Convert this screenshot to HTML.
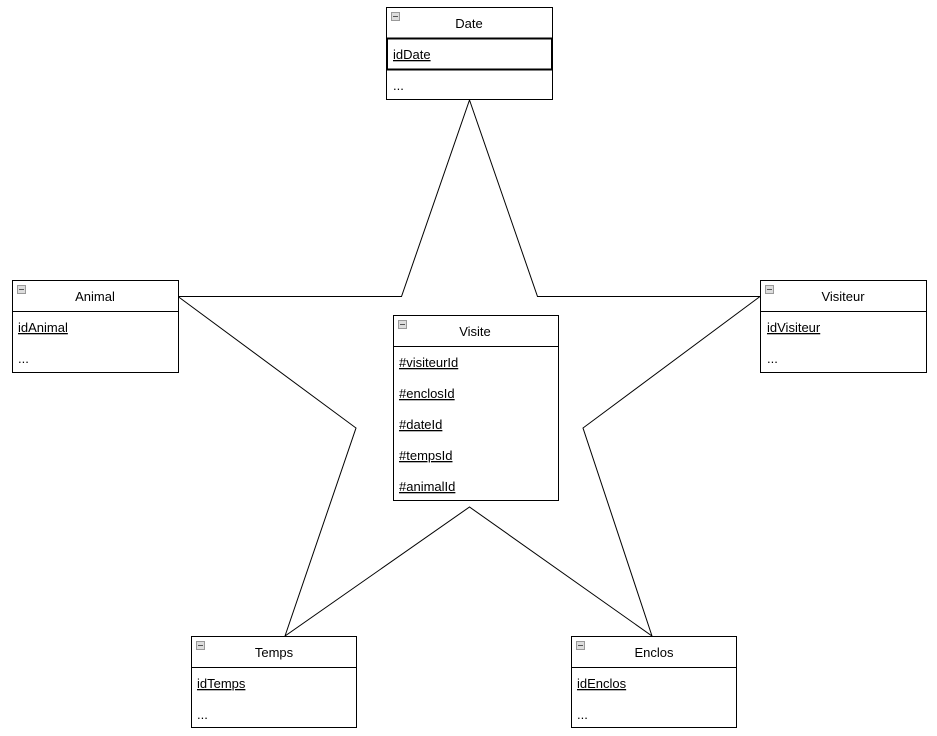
<!DOCTYPE html>
<html><head><meta charset="utf-8"><style>
html,body{margin:0;padding:0;background:#fff;}
svg{display:block;}
text{font-family:"Liberation Sans",Arial,sans-serif;font-size:13px;fill:#000;}
</style></head><body>
<svg width="937" height="736" viewBox="0 0 937 736" xmlns="http://www.w3.org/2000/svg">
<g fill="none" stroke="#000" stroke-width="1">
<polyline points="469.5,100 401.5,296.5 178,296.5"/>
<polyline points="469.5,100 537.5,296.5 760,296.5"/>
<polyline points="178,296.5 356,428 285,636"/>
<polyline points="760,296.5 583,428 652,636"/>
<polyline points="285,636 469.5,507 652,636"/>
</g>
<!-- Date -->
<g>
<rect x="386.5" y="7.5" width="166" height="92" fill="#fff" stroke="#000"/>
<line x1="386.5" y1="38.5" x2="552.5" y2="38.5" stroke="#000" stroke-width="2"/>
<line x1="386.5" y1="69.5" x2="552.5" y2="69.5" stroke="#000" stroke-width="2"/>
<line x1="387" y1="38.5" x2="387" y2="69.5" stroke="#000" stroke-width="2"/>
<line x1="552" y1="38.5" x2="552" y2="69.5" stroke="#000" stroke-width="2"/>
<rect x="391.5" y="12.5" width="8" height="8" fill="#ddd" stroke="#999"/><line x1="393" y1="16.5" x2="398" y2="16.5" stroke="#555"/>
<text x="469" y="28" text-anchor="middle">Date</text>
<text x="393" y="59" text-decoration="underline">idDate</text>
<text x="393" y="90" font-size="11">...</text>
</g>
<!-- Animal -->
<g>
<rect x="12.5" y="280.5" width="166" height="92" fill="#fff" stroke="#000"/>
<line x1="12.5" y1="311.5" x2="178.5" y2="311.5" stroke="#000"/>
<rect x="17.5" y="285.5" width="8" height="8" fill="#ddd" stroke="#999"/><line x1="19" y1="289.5" x2="24" y2="289.5" stroke="#555"/>
<text x="95" y="301" text-anchor="middle">Animal</text>
<text x="18" y="332" text-decoration="underline">idAnimal</text>
<text x="18" y="363" font-size="11">...</text>
</g>
<!-- Visiteur -->
<g>
<rect x="760.5" y="280.5" width="166" height="92" fill="#fff" stroke="#000"/>
<line x1="760.5" y1="311.5" x2="926.5" y2="311.5" stroke="#000"/>
<rect x="765.5" y="285.5" width="8" height="8" fill="#ddd" stroke="#999"/><line x1="767" y1="289.5" x2="772" y2="289.5" stroke="#555"/>
<text x="843" y="301" text-anchor="middle">Visiteur</text>
<text x="767" y="332" text-decoration="underline">idVisiteur</text>
<text x="767" y="363" font-size="11">...</text>
</g>
<!-- Visite -->
<g>
<rect x="393.5" y="315.5" width="165" height="185" fill="#fff" stroke="#000"/>
<line x1="393.5" y1="346.5" x2="558.5" y2="346.5" stroke="#000"/>
<rect x="398.5" y="320.5" width="8" height="8" fill="#ddd" stroke="#999"/><line x1="400" y1="324.5" x2="405" y2="324.5" stroke="#555"/>
<text x="475" y="336" text-anchor="middle">Visite</text>
<text x="399" y="367" text-decoration="underline">#visiteurId</text>
<text x="399" y="398" text-decoration="underline">#enclosId</text>
<text x="399" y="429" text-decoration="underline">#dateId</text>
<text x="399" y="460" text-decoration="underline">#tempsId</text>
<text x="399" y="491" text-decoration="underline">#animalId</text>
</g>
<!-- Temps -->
<g>
<rect x="191.5" y="636.5" width="165" height="91" fill="#fff" stroke="#000"/>
<line x1="191.5" y1="667.5" x2="356.5" y2="667.5" stroke="#000"/>
<rect x="196.5" y="641.5" width="8" height="8" fill="#ddd" stroke="#999"/><line x1="198" y1="645.5" x2="203" y2="645.5" stroke="#555"/>
<text x="274" y="657" text-anchor="middle">Temps</text>
<text x="197" y="688" text-decoration="underline">idTemps</text>
<text x="197" y="719" font-size="11">...</text>
</g>
<!-- Enclos -->
<g>
<rect x="571.5" y="636.5" width="165" height="91" fill="#fff" stroke="#000"/>
<line x1="571.5" y1="667.5" x2="736.5" y2="667.5" stroke="#000"/>
<rect x="576.5" y="641.5" width="8" height="8" fill="#ddd" stroke="#999"/><line x1="578" y1="645.5" x2="583" y2="645.5" stroke="#555"/>
<text x="654" y="657" text-anchor="middle">Enclos</text>
<text x="577" y="688" text-decoration="underline">idEnclos</text>
<text x="577" y="719" font-size="11">...</text>
</g>
</svg>
</body></html>
